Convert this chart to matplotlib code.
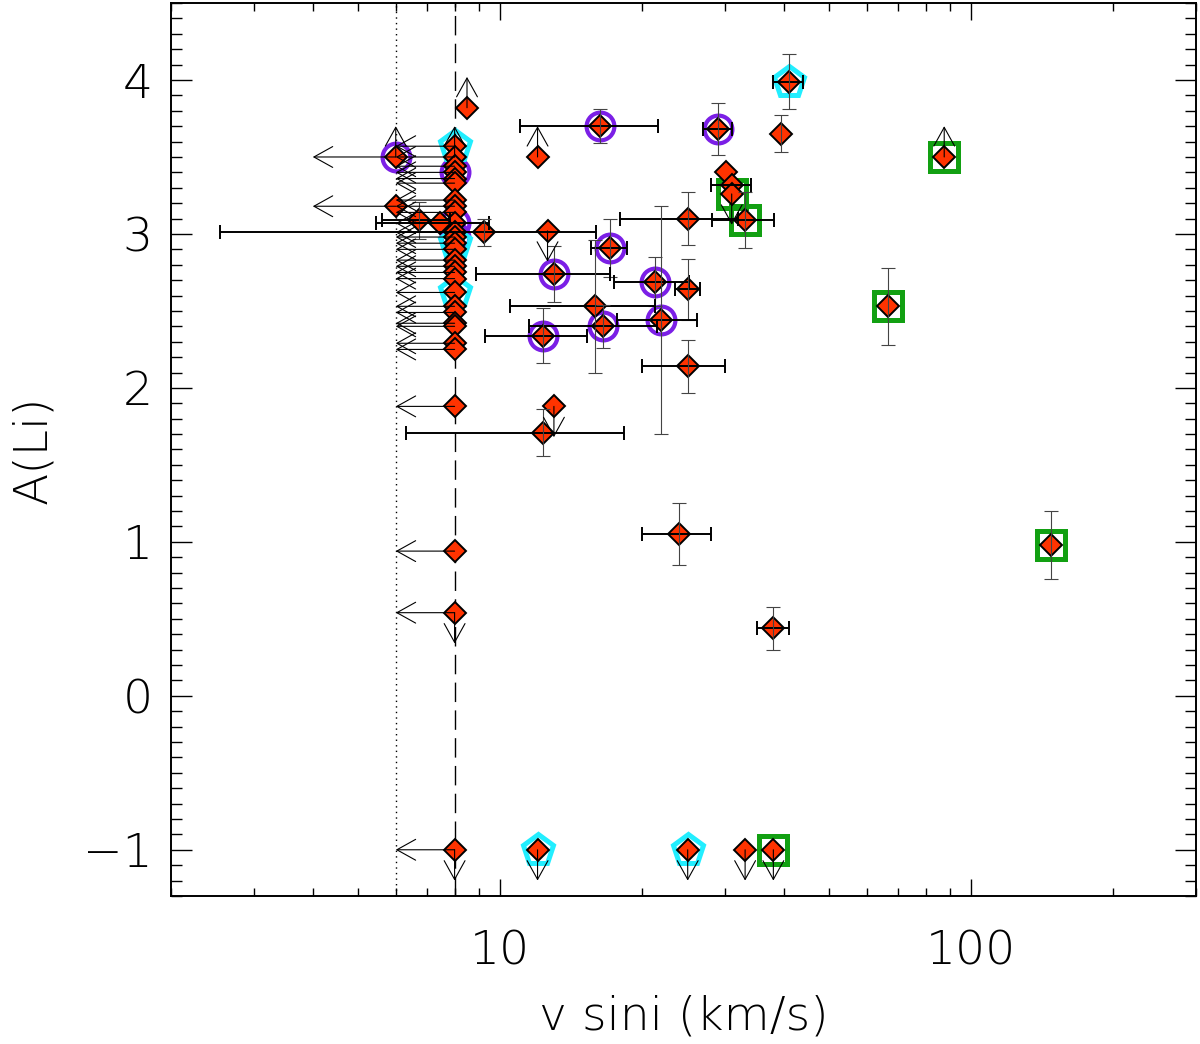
import matplotlib
matplotlib.use('Agg')
import matplotlib.pyplot as plt
from matplotlib.ticker import MultipleLocator, NullFormatter, FixedLocator

plt.rcParams['font.family'] = ['DejaVu Sans']
plt.rcParams['font.weight'] = 200
plt.rcParams['axes.labelweight'] = 200
plt.rcParams['font.size'] = 34

# vsini (km/s), error, A(Li), error
# vlim: 1 = vsini upper limit (arrow to the left)
# alim: 1 = A(Li) lower limit (arrow up), -1 = upper limit (arrow down)
# flag: 'c' purple circle, 's' green square, 'p' cyan pentagon
vsini = [8, 8, 8, 8, 8, 8, 8, 8, 8, 8,
         8, 8, 8, 8, 8, 8, 8, 8, 8, 8,
         8, 8, 8, 8, 8, 8, 8, 8, 8,
         6, 6,
         6.72, 7.45, 9.24, 8.5, 12.0, 16.3, 29.0, 41.0, 39.4, 87.6,
         30.1, 31.0, 31.0, 33.1, 25.0, 12.6, 17.1, 13.0, 21.3, 25.0,
         15.9, 21.9, 16.5, 12.3, 25.0, 13.0, 12.3, 24.0, 66.6, 148.0,
         38.0, 12.0, 25.0, 33.1, 38.0]
e_vsini = [0] * 31 + \
        [1.1, 2.0, 6.7, 0, 0, 5.3, 2.0, 3.0, 0, 0,
         0, 3.0, 0, 5.0, 7.0, 0, 1.5, 4.1, 3.9, 1.5,
         5.4, 4.2, 5.0, 3.0, 5.0, 0, 6.0, 4.0, 0, 0,
         3.0, 0, 0, 0, 0]
ali = [3.57, 3.50, 3.44, 3.40, 3.36, 3.33, 3.22, 3.18, 3.14, 3.07,
       3.01, 2.98, 2.94, 2.90, 2.83, 2.79, 2.75, 2.71, 2.62, 2.53,
       2.49, 2.42, 2.40, 2.29, 2.25, 1.88, 0.94, 0.54, -1.0,
       3.50, 3.18,
       3.09, 3.07, 3.01, 3.82, 3.50, 3.70, 3.68, 3.99, 3.65, 3.50,
       3.40, 3.32, 3.26, 3.09, 3.10, 3.02, 2.91, 2.74, 2.69, 2.64,
       2.53, 2.44, 2.40, 2.34, 2.14, 1.88, 1.71, 1.05, 2.53, 0.98,
       0.44, -1.0, -1.0, -1.0, -1.0]
e_ali = [0] * 31 + \
        [0.12, 0, 0.09, 0, 0, 0.11, 0.17, 0.18, 0.12, 0,
         0, 0, 0, 0.18, 0.17, 0, 0.19, 0.18, 0.16, 0.2,
         0.43, 0.74, 0.14, 0.18, 0.17, 0, 0.15, 0.2, 0.25, 0.22,
         0.14, 0, 0, 0, 0]
vlim = [1] * 31 + [0] * 35
alim = [0, 1, 0, 0, 0, 0, 0, 0, 0, 0,
        0, 0, 0, 0, 0, 0, 0, 0, 0, 0,
        0, 0, 0, 0, 0, 0, 0, -1, -1,
        1, 0,
        0, 0, 0, 1, 1, 0, 0, 0, 0, 1,
        0, 0, -1, 0, 0, -1, 0, 0, 0, 0,
        0, 0, 0, 0, 0, -1, 0, 0, 0, 0,
        0, -1, -1, -1, -1]
flag = ['p', '', '', 'c', '', '', '', '', '', 'c',
        '', 'c', 'p', '', '', '', '', '', 'p', '',
        '', '', '', '', '', '', '', '', '',
        'c', '',
        '', '', '', '', '', 'c', 'c', 'p', '', 's',
        '', '', 's', 's', '', '', 'c', 'c', 'c', '',
        '', 'c', 'c', 'c', '', '', '', '', 's', 's',
        '', 'p', 'p', '', 's']

fig = plt.figure(figsize=(12, 10.44), dpi=100)
ax = fig.add_axes([0.1425, 0.1418, 0.8542, 0.8553])

ax.axvline(6, color='black', lw=1.0, ls=(0, (1, 3)), zorder=1)
ax.axvline(8, color='black', lw=1.0, ls=(0, (14, 6)), zorder=1)

# rings around special stars
styles = {'c': dict(marker='o', ms=20, mew=3.0, mec='#7b1fe6'),
          'p': dict(marker='p', ms=23, mew=3.6, mec='#22eeff'),
          's': dict(marker='s', ms=19.5, mew=3.6, mec='#12a012')}
for k, st in styles.items():
    xs = [vsini[i] for i in range(len(vsini)) if flag[i] == k]
    ys = [ali[i] for i in range(len(ali)) if flag[i] == k]
    ax.plot(xs, ys, ls='none', mfc='none', zorder=2, **st)

ax.plot(vsini, ali, ls='none', marker='D', ms=11.5, mfc='#ff3300',
        mec='black', mew=1.4, zorder=3)

# error bars
for i in range(len(vsini)):
    if e_vsini[i] > 0:
        ax.errorbar(vsini[i], ali[i], xerr=e_vsini[i], fmt='none', ecolor='black',
                    elinewidth=1.4, capsize=5, capthick=1.4, zorder=4)
    if e_ali[i] > 0:
        ax.errorbar(vsini[i], ali[i], yerr=e_ali[i], fmt='none', ecolor='#444444',
                    elinewidth=0.8, capsize=5, capthick=0.8, zorder=4)

# limit arrows
arr = dict(arrowstyle='->,head_length=1.35,head_width=0.75', color='black',
           lw=0.8, shrinkA=0, shrinkB=0, mutation_scale=10)
for i in range(len(vsini)):
    x, y = vsini[i], ali[i]
    if vlim[i]:
        ax.annotate('', xy=(x - 2, y), xytext=(x, y), arrowprops=arr, zorder=4)
    if alim[i] != 0:
        ax.annotate('', xy=(x, y + 0.2 * alim[i]), xytext=(x, y), arrowprops=arr, zorder=4)

ax.set_xscale('log')
ax.set_xlim(2, 300)
ax.set_ylim(-1.3, 4.5)
ax.xaxis.set_major_locator(FixedLocator([10, 100]))
ax.set_xticklabels(['10', '100'])
ax.xaxis.set_minor_formatter(NullFormatter())
ax.yaxis.set_major_locator(MultipleLocator(1))
ax.yaxis.set_minor_locator(MultipleLocator(0.1))

ax.tick_params(which='both', direction='in', top=True, right=True, width=1.0)
ax.tick_params(axis='x', which='major', length=12, pad=24)
ax.tick_params(axis='x', which='minor', length=6)
ax.tick_params(axis='y', which='major', length=15, pad=13)
ax.tick_params(axis='y', which='minor', length=8)
for s in ax.spines.values():
    s.set_linewidth(1.4)

ax.set_xlabel('v sini (km/s)')
ax.set_ylabel('A(Li)')
ax.xaxis.set_label_coords(0.5, -0.11)
ax.yaxis.set_label_coords(-0.113, 0.5)

fig.savefig('out.png', dpi=100)
